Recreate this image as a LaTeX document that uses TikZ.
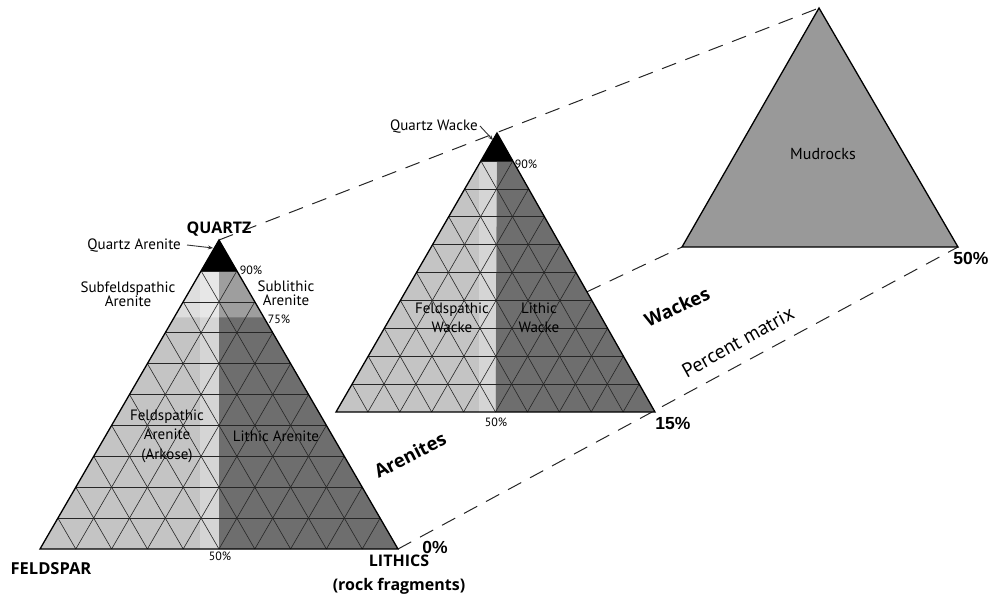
\documentclass[tikz,border=0pt]{standalone}
\usepackage{fontspec}
\setmainfont{PT Sans}
\newfontfamily\arialf{Liberation Sans}
\newfontfamily\osans{Open Sans}
\usetikzlibrary{calc,arrows.meta}

\tikzset{
  lbl/.style={font=\fontsize{15}{19.5}\selectfont, align=center, inner sep=0pt},
  tightlbl/.style={font=\fontsize{15}{14}\selectfont, align=center, inner sep=0pt},
  smalllbl/.style={font=\fontsize{12}{12}\selectfont, inner sep=0pt},
  bigb/.style={font=\osans\bfseries\fontsize{16}{24}\selectfont, inner sep=0pt, align=center},
  rotb/.style={font=\osans\bfseries\fontsize{18.5}{20}\selectfont, inner sep=0pt},
  pct/.style={font=\arialf\bfseries\fontsize{17.5}{18}\selectfont, inner sep=0pt},
  gridln/.style={line width=0.6pt, draw=black!85},
  outline/.style={line width=1.3pt, line join=miter, draw=black},
  dashln/.style={line width=1pt, draw=black!85, dash pattern=on 15pt off 10pt},
  arr/.style={line width=0.9pt, draw=black!80, -{Stealth[length=5pt,width=4pt]}},
}

\newcommand\tergrid[3]{%
  \foreach \i in {1,...,9}{%
    \draw[gridln] ($(#1)!\i/10!(#3)$) -- ($(#2)!\i/10!(#3)$);
    \draw[gridln] ($(#1)!\i/10!(#2)$) -- ($(#3)!\i/10!(#2)$);
    \draw[gridln] ($(#2)!\i/10!(#1)$) -- ($(#3)!\i/10!(#1)$);
  }}

\begin{document}
\begin{tikzpicture}[x=1pt,y=-1pt]
\useasboundingbox (0,0) rectangle (994,598);

% vertices
\coordinate (L1) at (40,549);  \coordinate (R1) at (398,549); \coordinate (T1) at (219,240);
\coordinate (L2) at (336,412); \coordinate (R2) at (655,412); \coordinate (T2) at (497,133);
\coordinate (L3) at (682,247); \coordinate (R3) at (958,247); \coordinate (T3) at (819,8);
\coordinate (M1) at ($(L1)!.5!(R1)$);
\coordinate (M2) at ($(L2)!.5!(R2)$);

% dashed perspective lines
\draw[dashln] (T1) -- (T3);
\draw[dashln] (R1) -- (R3);
\coordinate (X3) at (intersection of L1--L3 and T2--R2);
\draw[dashln] (X3) -- (L3);

% ---------- Triangle 3 : Mudrocks
\fill[black!40] (L3) -- (R3) -- (T3) -- cycle;
\draw[outline] (L3) -- (R3) -- (T3) -- cycle;

% ---------- Triangle 2 : Wackes
\fill[black!23] (L2) -- (M2) -- (T2) -- cycle;
\fill[black!57] (M2) -- (R2) -- (T2) -- cycle;
\begin{scope}
  \clip (L2) -- (M2) -- (T2) -- cycle;
  \fill[white, opacity=0.3] ($(M2)+(-17,0)$) rectangle ($(T2)$);
\end{scope}
\tergrid{L2}{R2}{T2}
\fill[black] ($(L2)!.9!(T2)$) -- ($(R2)!.9!(T2)$) -- (T2) -- cycle;
\draw[outline] (L2) -- (R2) -- (T2) -- cycle;

% ---------- Triangle 1 : Arenites
\fill[black!23] (L1) -- (M1) -- (T1) -- cycle;
\fill[black!57] (M1) -- (R1) -- (T1) -- cycle;
\fill[black!13] ($(L1)!.75!(T1)$) -- ($(M1)!.75!(T1)$) -- ($(M1)!.9!(T1)$) -- ($(L1)!.9!(T1)$) -- cycle;
\fill[black!38] ($(M1)!.75!(T1)$) -- ($(R1)!.75!(T1)$) -- ($(R1)!.9!(T1)$) -- ($(M1)!.9!(T1)$) -- cycle;
\begin{scope}
  \clip (L1) -- (M1) -- (T1) -- cycle;
  \fill[white, opacity=0.3] ($(M1)+(-19,0)$) rectangle ($(T1)$);
\end{scope}
\tergrid{L1}{R1}{T1}
\fill[black] ($(L1)!.9!(T1)$) -- ($(R1)!.9!(T1)$) -- (T1) -- cycle;
\draw[outline] (L1) -- (R1) -- (T1) -- cycle;

% ---------- labels triangle 1
\node[bigb] (quartz) at (219,229) {QUARTZ};
\node[lbl, anchor=east] (qarenite) at (181,246) {Quartz Arenite};
\coordinate (qaTip) at (213,248);
\draw[arr] ([xshift=6pt,yshift=1pt]qarenite.east) -- (qaTip);
\node[tightlbl] (subf) at (128,294) {Subfeldspathic\\Arenite};
\node[tightlbl] (subl) at (286,293) {Sublithic\\Arenite};
\node[smalllbl] (p90a) at (251,270) {90\%};
\node[smalllbl] (p75a) at (279,319) {75\%};
\node[lbl] (fa) at (167,436) {Feldspathic\\Arenite\\(Arkose)};
\node[lbl] (la) at (276,436) {Lithic Arenite};
\node[smalllbl] (p50a) at (220,556) {50\%};
\node[bigb, font=\osans\bfseries\fontsize{16.5}{17}\selectfont] (feld) at (51,569) {FELDSPAR};
\node[bigb] (lith) at (399,575) {LITHICS\\(rock fragments)};
\node[pct] (p0) at (435,547) {0\%};
\node[rotb, rotate=27] (aren) at (410,455) {Arenites};

% ---------- labels triangle 2
\node[lbl, anchor=east] (qwacke) at (478,127) {Quartz Wacke};
\coordinate (qwTip) at (493,140);
\draw[arr] ([xshift=2pt,yshift=1pt]qwacke.east) -- (qwTip);
\node[smalllbl] (p90b) at (526,164) {90\%};
\node[smalllbl] (p50b) at (496,422) {50\%};
\node[lbl] (fw) at (452,318) {Feldspathic\\Wacke};
\node[lbl] (lw) at (539,318) {Lithic\\Wacke};
\node[pct] (p15) at (673,423) {15\%};
\node[rotb, rotate=25] (wack) at (677,307) {Wackes};
\node[lbl, rotate=29, font=\fontsize{20}{20}\selectfont] (pm) at (738,342) {Percent matrix};

% ---------- labels triangle 3
\node[lbl, font=\fontsize{16}{16}\selectfont] (mud) at (823,154) {Mudrocks};
\node[pct] (p50c) at (971,258) {50\%};
\end{tikzpicture}
\end{document}
